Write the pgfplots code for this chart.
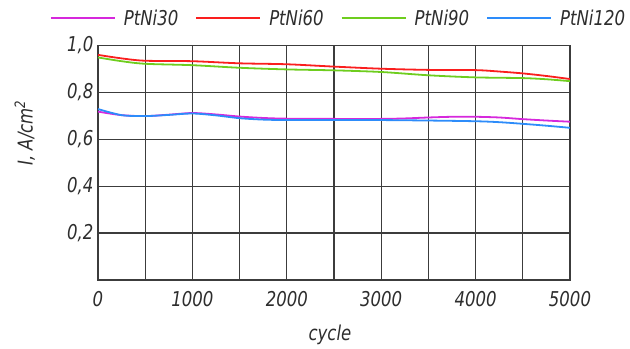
\documentclass[border=0pt]{standalone}
\usepackage{fontspec}
\IfFontExistsTF{DejaVu Sans Condensed}{\setmainfont{DejaVu Sans Condensed}[FakeStretch=0.9]}{\setmainfont{DejaVu Sans}[FakeStretch=0.8]}
\usepackage{pgfplots}
\pgfplotsset{compat=1.18}
\definecolor{cmag}{RGB}{214,40,220}
\definecolor{cred}{RGB}{250,30,30}
\definecolor{cgreen}{RGB}{110,205,30}
\definecolor{cblue}{RGB}{45,140,250}
\definecolor{cgrid}{RGB}{60,60,60}
\definecolor{ctext}{RGB}{45,45,45}
\begin{document}
\begin{tikzpicture}
\path[use as bounding box] (-98bp,-69bp) rectangle (532bp,280bp);
\begin{axis}[
  scale only axis, width=472bp, height=234.5bp,
  at={(0,0)}, anchor=south west,
  xmin=0, xmax=5000, ymin=0, ymax=1.0,
  xtick={0,500,...,5000},
  xticklabels={0,,1000,,2000,,3000,,4000,,5000},
  ytick={0.2,0.4,...,1.0},
  yticklabels={{0,2},{0,4},{0,6},{0,8},{1,0}},
  grid=major,
  major grid style={draw=cgrid, line width=1.3bp},
  axis line style={draw=cgrid, line width=1.3bp},
  major tick length=0pt,
  font=\fontsize{20.5}{24}\selectfont\itshape,
  tick label style={text=ctext, font=\fontsize{20.5}{24}\selectfont\itshape},
  xticklabel style={yshift=-8bp},
  yticklabel style={xshift=-1bp},
  xlabel={cycle},
  xlabel style={at={(axis description cs:0.4915,-0.2345)}, anchor=center, text=ctext},
  ylabel={I, A/cm\textsuperscript{2}},
  ylabel style={at={(axis description cs:-0.155,0.627)}, anchor=center, text=ctext},
  legend columns=4,
  legend style={at={(axis description cs:0.5095,1.117)}, anchor=center, draw=none, fill=none,
    font=\fontsize{20.5}{24}\selectfont\itshape, text=ctext,
    /tikz/every even column/.append style={column sep=15bp},
    /tikz/every odd column/.append style={column sep=6bp}},
  legend image code/.code={\draw[#1, line width=2bp] (0bp,0bp) -- (64bp,0bp);},
  every axis plot/.append style={line width=1.8bp, smooth},
]
\addplot[cmag] coordinates {(0,0.718) (250,0.703) (500,0.699) (750,0.705) (1000,0.712) (1250,0.706) (1500,0.697) (1750,0.691) (2000,0.688) (2500,0.687) (3000,0.687) (3250,0.689) (3500,0.693) (3750,0.696) (4000,0.696) (4250,0.693) (4500,0.686) (4750,0.680) (5000,0.675)};
\addlegendentry{PtNi30}
\addplot[cred] coordinates {(0,0.960) (250,0.945) (500,0.935) (1000,0.933) (1500,0.924) (2000,0.920) (2500,0.910) (3000,0.901) (3500,0.896) (4000,0.895) (4250,0.889) (4500,0.881) (4750,0.870) (5000,0.857)};
\addlegendentry{PtNi60}
\addplot[cgreen] coordinates {(0,0.949) (250,0.933) (500,0.922) (1000,0.916) (1500,0.905) (2000,0.898) (2500,0.894) (3000,0.887) (3500,0.873) (4000,0.864) (4500,0.861) (4750,0.856) (5000,0.848)};
\addlegendentry{PtNi90}
\addplot[cblue] coordinates {(0,0.729) (250,0.703) (500,0.699) (750,0.704) (1000,0.710) (1250,0.702) (1500,0.690) (1750,0.684) (2000,0.682) (2500,0.682) (3000,0.682) (3500,0.680) (4000,0.677) (4250,0.673) (4500,0.666) (4750,0.658) (5000,0.649)};
\addlegendentry{PtNi120}
\end{axis}
\end{tikzpicture}
\end{document}
